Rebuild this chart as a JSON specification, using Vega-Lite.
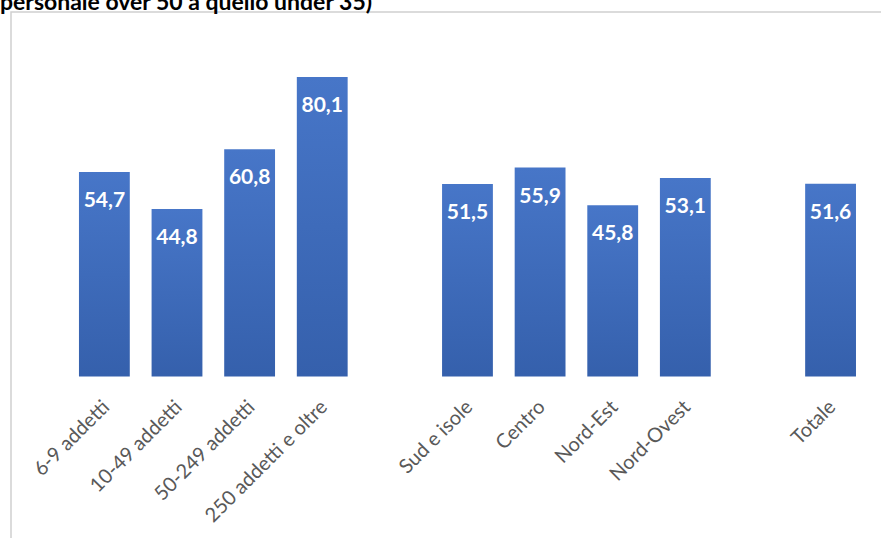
{
  "$schema": "https://vega.github.io/schema/vega-lite/v6.json",
  "autosize": "none",
  "padding": {"left": 11, "top": 12, "right": 0, "bottom": 0},
  "width": 880,
  "height": 540,
  "background": "white",
  "title": {
    "text": "personale over 50 a quello under 35)",
    "anchor": "start",
    "frame": "group",
    "fontSize": 23,
    "fontWeight": "bold",
    "font": "Lato",
    "color": "#000000",
    "dx": -11,
    "offset": -3
  },
  "config": {
    "view": {"stroke": "#d0d0d0", "strokeWidth": 1.5},
    "locale": {"number": {"decimal": ",", "thousands": ".", "grouping": [3], "currency": ["", " €"]}}
  },
  "data": {
    "values": [
      {"categoria": "6-9 addetti", "valore": 54.7},
      {"categoria": "10-49 addetti", "valore": 44.8},
      {"categoria": "50-249 addetti", "valore": 60.8},
      {"categoria": "250 addetti e oltre", "valore": 80.1},
      {"categoria": "Sud e isole", "valore": 51.5},
      {"categoria": "Centro", "valore": 55.9},
      {"categoria": "Nord-Est", "valore": 45.8},
      {"categoria": "Nord-Ovest", "valore": 53.1},
      {"categoria": "Totale", "valore": 51.6}
    ]
  },
  "encoding": {
    "x": {
      "field": "categoria",
      "type": "nominal",
      "sort": null,
      "scale": {
        "domain": ["6-9 addetti", "10-49 addetti", "50-249 addetti", "250 addetti e oltre", " ", "Sud e isole", "Centro", "Nord-Est", "Nord-Ovest", "  ", "Totale"],
        "paddingInner": 0.3,
        "paddingOuter": 0.709,
        "align": 0.66
      },
      "axis": {
        "title": null,
        "orient": "bottom",
        "offset": -175.4,
        "domain": false,
        "ticks": false,
        "tickSize": 0,
        "grid": false,
        "labelAngle": -45,
        "labelAlign": "right",
        "labelBaseline": "middle",
        "labelPadding": 27,
        "labelOffset": 2,
        "labelFont": "Lato",
        "labelFontSize": 20,
        "labelColor": "#595959",
        "labelOverlap": false,
        "labelLimit": 300
      }
    },
    "y": {
      "field": "valore",
      "type": "quantitative",
      "scale": {"domain": [-46.9, 97.5], "nice": false, "zero": false},
      "axis": null
    }
  },
  "layer": [
    {
      "mark": {
        "type": "bar",
        "color": {
          "gradient": "linear",
          "x1": 0, "y1": 0, "x2": 0, "y2": 1,
          "stops": [
            {"offset": 0, "color": "#4776C8"},
            {"offset": 1, "color": "#3560AC"}
          ]
        }
      },
      "encoding": {"y2": {"datum": 0}}
    },
    {
      "mark": {
        "type": "text",
        "color": "white",
        "font": "Lato",
        "fontWeight": "bold",
        "fontSize": 21,
        "align": "center",
        "baseline": "alphabetic",
        "dy": 35
      },
      "encoding": {
        "text": {"field": "valore", "type": "quantitative", "format": ".1f"}
      }
    }
  ]
}
